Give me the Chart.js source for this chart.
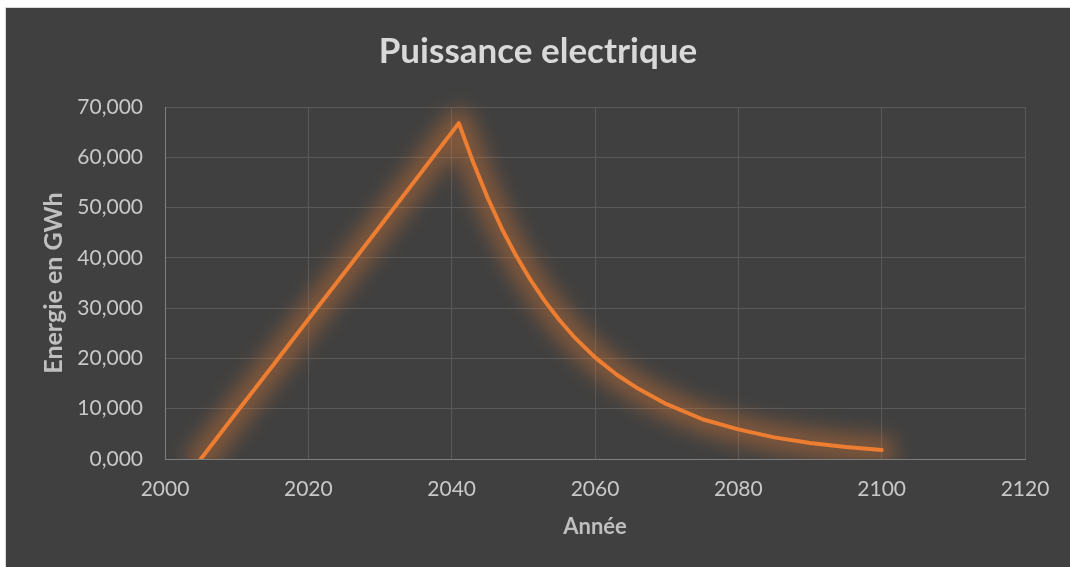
<!DOCTYPE html>
<html>
<head>
<meta charset="utf-8">
<script src="https://cdn.jsdelivr.net/npm/chart.js@4/dist/chart.umd.min.js"></script>
<style>
html,body{margin:0;padding:0;background:#ffffff;}
#wrap{position:absolute;left:0;top:0;width:1070px;height:567px;}
</style>
</head>
<body>
<div id="wrap"><canvas id="c" width="1070" height="567"></canvas></div>
<script>
// ---- data ----
const years  = [2005, 2010, 2015, 2020, 2025, 2030, 2035, 2041, 2043, 2045, 2047, 2049, 2051, 2053, 2055, 2057, 2060, 2063, 2066, 2070, 2075, 2080, 2085, 2090, 2095, 2100];
const energy = [0, 9300, 18500, 27800, 37000, 46300, 55600, 66800, 59000, 52000, 45800, 40400, 35600, 31400, 27700, 24400, 20200, 16800, 14000, 10900, 7900, 5900, 4300, 3200, 2400, 1800];
const yTickLabels = ['0,000', '10,000', '20,000', '30,000', '40,000', '50,000', '60,000', '70,000'];
const xTickLabels = ['2000', '2020', '2040', '2060', '2080', '2100', '2120'];
const chartTitle = 'Puissance electrique';
const xTitle = 'Année';
const yTitle = 'Energie en GWh';

const FONT = 'Lato, "Open Sans", sans-serif';

const bgPlugin = {
  id: 'bg',
  beforeDraw(chart) {
    const ctx = chart.ctx;
    ctx.save();
    ctx.fillStyle = '#ffffff';
    ctx.fillRect(0, 0, chart.width, chart.height);
    ctx.fillStyle = '#d9d9d9';
    ctx.fillRect(5, 7, chart.width - 5, chart.height - 7);
    ctx.fillStyle = '#404040';
    ctx.fillRect(6, 8, chart.width - 6, chart.height - 8);
    ctx.restore();
  }
};

// soft orange glow under the line (drawn from the dataset's own element)
const glowPlugin = {
  id: 'glow',
  beforeDatasetDraw(chart, args) {
    const meta = chart.getDatasetMeta(args.index);
    const el = meta.dataset;
    if (!el) return;
    const ctx = chart.ctx;
    const a = chart.chartArea;
    ctx.save();
    ctx.beginPath();
    ctx.rect(a.left, a.top - 25, a.right - a.left + 25, a.bottom - a.top + 25);
    ctx.clip();
    ctx.filter = 'blur(10px)';
    ctx.globalAlpha = 0.38;
    const ow = el.options.borderWidth;
    el.options.borderWidth = 28;
    el.draw(ctx, a);
    el.options.borderWidth = ow;
    ctx.restore();
  }
};

new Chart(document.getElementById('c'), {
  type: 'line',
  data: {
    datasets: [{
      data: years.map((y, i) => ({x: y, y: energy[i]})),
      borderColor: '#ED7D31',
      borderWidth: 4,
      pointRadius: 0,
      tension: 0,
      fill: false,
      borderCapStyle: 'round',
      borderJoinStyle: 'round'
    }]
  },
  options: {
    responsive: false,
    animation: false,
    layout: { padding: { left: 6, top: 8, right: 0, bottom: 0 } },
    plugins: {
      legend: { display: false },
      tooltip: { enabled: false },
      title: {
        display: true,
        text: chartTitle,
        color: '#d9d9d9',
        font: { family: FONT, size: 35, weight: 'bold', lineHeight: 1.2 },
        padding: { top: 23, bottom: 34 }
      }
    },
    scales: {
      x: {
        type: 'linear',
        min: 2000, max: 2120,
        afterFit(s) { s.height = 108; },
        ticks: {
          stepSize: 20,
          color: '#c8c8c8',
          font: { family: FONT, size: 21 },
          padding: 18,
          maxRotation: 0,
          callback: (v) => { const i = xTickLabels.indexOf(String(v)); return i >= 0 ? xTickLabels[i] : ''; }
        },
        grid: { color: '#595959', lineWidth: 1, drawTicks: false },
        border: { color: '#7f7f7f', width: 1 },
        title: {
          display: true,
          text: xTitle,
          color: '#bfbfbf',
          font: { family: FONT, size: 22, weight: 'bold', lineHeight: 1.2 },
          padding: { top: 0, bottom: 27 }
        }
      },
      y: {
        min: 0, max: 70000,
        afterFit(s) { s.width = 159; },
        ticks: {
          stepSize: 10000,
          color: '#c8c8c8',
          font: { family: FONT, size: 21 },
          padding: 22,
          callback: (v) => yTickLabels[Math.round(v / 10000)]
        },
        grid: { color: '#595959', lineWidth: 1, drawTicks: false },
        border: { color: '#7f7f7f', width: 1 },
        title: {
          display: true,
          text: yTitle,
          color: '#bfbfbf',
          font: { family: FONT, size: 25, weight: 'bold', lineHeight: 1.2 },
          padding: { top: 33, bottom: 0 }
        }
      },
      spacer: {
        type: 'linear',
        position: 'right',
        display: true,
        afterFit(s) { s.width = 45; },
        ticks: { display: false },
        grid: { display: false, drawTicks: false },
        border: { display: false }
      }
    }
  },
  plugins: [bgPlugin, glowPlugin]
});
</script>
</body>
</html>
